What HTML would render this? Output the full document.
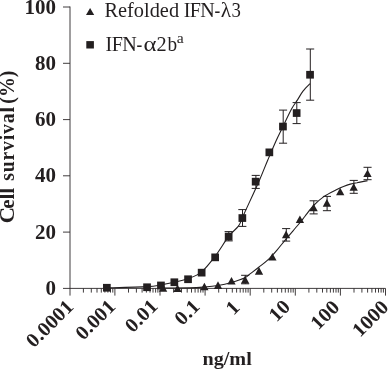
<!DOCTYPE html>
<html><head><meta charset="utf-8"><title>chart</title><style>html,body{margin:0;padding:0;background:#fff}</style></head><body>
<svg width="388" height="370" viewBox="0 0 388 370" style="display:block">
<rect width="388" height="370" fill="#fff"/>
<g stroke="#2b2728" stroke-width="0.9" fill="none">
<line x1="70.0" y1="6.5" x2="70.0" y2="295.6"/>
<line x1="63" y1="288.4" x2="385.5" y2="288.4"/>
<line x1="63" y1="232.1" x2="70.0" y2="232.1"/>
<line x1="63" y1="175.8" x2="70.0" y2="175.8"/>
<line x1="63" y1="119.6" x2="70.0" y2="119.6"/>
<line x1="63" y1="63.3" x2="70.0" y2="63.3"/>
<line x1="63" y1="7.0" x2="70.0" y2="7.0"/>
<line x1="83.4" y1="288.4" x2="83.4" y2="292.6"/>
<line x1="91.3" y1="288.4" x2="91.3" y2="292.6"/>
<line x1="97.0" y1="288.4" x2="97.0" y2="292.6"/>
<line x1="101.3" y1="288.4" x2="101.3" y2="292.6"/>
<line x1="104.9" y1="288.4" x2="104.9" y2="292.6"/>
<line x1="107.9" y1="288.4" x2="107.9" y2="292.6"/>
<line x1="110.5" y1="288.4" x2="110.5" y2="292.6"/>
<line x1="112.8" y1="288.4" x2="112.8" y2="292.6"/>
<line x1="114.9" y1="288.4" x2="114.9" y2="295.6"/>
<line x1="128.5" y1="288.4" x2="128.5" y2="292.6"/>
<line x1="136.4" y1="288.4" x2="136.4" y2="292.6"/>
<line x1="142.1" y1="288.4" x2="142.1" y2="292.6"/>
<line x1="146.4" y1="288.4" x2="146.4" y2="292.6"/>
<line x1="150.0" y1="288.4" x2="150.0" y2="292.6"/>
<line x1="153.0" y1="288.4" x2="153.0" y2="292.6"/>
<line x1="155.6" y1="288.4" x2="155.6" y2="292.6"/>
<line x1="157.9" y1="288.4" x2="157.9" y2="292.6"/>
<line x1="160.0" y1="288.4" x2="160.0" y2="295.6"/>
<line x1="173.6" y1="288.4" x2="173.6" y2="292.6"/>
<line x1="181.5" y1="288.4" x2="181.5" y2="292.6"/>
<line x1="187.2" y1="288.4" x2="187.2" y2="292.6"/>
<line x1="191.5" y1="288.4" x2="191.5" y2="292.6"/>
<line x1="195.1" y1="288.4" x2="195.1" y2="292.6"/>
<line x1="198.1" y1="288.4" x2="198.1" y2="292.6"/>
<line x1="200.7" y1="288.4" x2="200.7" y2="292.6"/>
<line x1="203.0" y1="288.4" x2="203.0" y2="292.6"/>
<line x1="205.1" y1="288.4" x2="205.1" y2="295.6"/>
<line x1="218.7" y1="288.4" x2="218.7" y2="292.6"/>
<line x1="226.6" y1="288.4" x2="226.6" y2="292.6"/>
<line x1="232.3" y1="288.4" x2="232.3" y2="292.6"/>
<line x1="236.6" y1="288.4" x2="236.6" y2="292.6"/>
<line x1="240.2" y1="288.4" x2="240.2" y2="292.6"/>
<line x1="243.2" y1="288.4" x2="243.2" y2="292.6"/>
<line x1="245.8" y1="288.4" x2="245.8" y2="292.6"/>
<line x1="248.1" y1="288.4" x2="248.1" y2="292.6"/>
<line x1="250.2" y1="288.4" x2="250.2" y2="295.6"/>
<line x1="263.8" y1="288.4" x2="263.8" y2="292.6"/>
<line x1="271.7" y1="288.4" x2="271.7" y2="292.6"/>
<line x1="277.4" y1="288.4" x2="277.4" y2="292.6"/>
<line x1="281.7" y1="288.4" x2="281.7" y2="292.6"/>
<line x1="285.3" y1="288.4" x2="285.3" y2="292.6"/>
<line x1="288.3" y1="288.4" x2="288.3" y2="292.6"/>
<line x1="290.9" y1="288.4" x2="290.9" y2="292.6"/>
<line x1="293.2" y1="288.4" x2="293.2" y2="292.6"/>
<line x1="295.3" y1="288.4" x2="295.3" y2="295.6"/>
<line x1="308.9" y1="288.4" x2="308.9" y2="292.6"/>
<line x1="316.8" y1="288.4" x2="316.8" y2="292.6"/>
<line x1="322.5" y1="288.4" x2="322.5" y2="292.6"/>
<line x1="326.8" y1="288.4" x2="326.8" y2="292.6"/>
<line x1="330.4" y1="288.4" x2="330.4" y2="292.6"/>
<line x1="333.4" y1="288.4" x2="333.4" y2="292.6"/>
<line x1="336.0" y1="288.4" x2="336.0" y2="292.6"/>
<line x1="338.3" y1="288.4" x2="338.3" y2="292.6"/>
<line x1="340.4" y1="288.4" x2="340.4" y2="295.6"/>
<line x1="354.0" y1="288.4" x2="354.0" y2="292.6"/>
<line x1="361.9" y1="288.4" x2="361.9" y2="292.6"/>
<line x1="367.6" y1="288.4" x2="367.6" y2="292.6"/>
<line x1="371.9" y1="288.4" x2="371.9" y2="292.6"/>
<line x1="375.5" y1="288.4" x2="375.5" y2="292.6"/>
<line x1="378.5" y1="288.4" x2="378.5" y2="292.6"/>
<line x1="381.1" y1="288.4" x2="381.1" y2="292.6"/>
<line x1="383.4" y1="288.4" x2="383.4" y2="292.6"/>
<line x1="385.5" y1="288.4" x2="385.5" y2="295.6"/>
</g>
<g stroke="#231f20" stroke-width="1.1" fill="none" stroke-linejoin="round">
<path d="M106.8 287.9 C113.5 287.7 138.1 287.1 147.1 286.6 C156.1 286.1 156.4 285.6 160.9 284.9 C165.4 284.2 169.8 283.4 174.3 282.3 C178.8 281.2 183.4 280.4 188.0 278.6 C192.6 276.9 197.2 275.5 201.7 271.8 C206.2 268.1 210.7 262.1 215.2 256.2 C219.7 250.3 224.8 241.4 228.6 236.4 C232.4 231.4 235.9 229.5 238.2 226.4 C240.5 223.3 241.4 220.1 242.4 218.1 C243.4 216.1 241.2 220.4 243.9 214.3 C246.6 208.2 254.8 190.8 258.8 181.7 C262.8 172.6 264.9 166.8 267.8 160.0 C270.7 153.2 273.5 146.6 276.0 141.0 C278.5 135.4 280.4 131.9 283.0 126.5 C285.6 121.1 289.4 113.0 291.8 108.6 C294.2 104.2 295.6 102.8 297.5 99.9 C299.4 97.0 300.9 93.8 303.0 91.1 C305.1 88.4 308.8 84.8 310.0 83.6"/>
<path d="M163.0 288.0 C167.5 288.0 183.1 288.1 190.0 287.9 C196.9 287.7 199.9 287.4 204.6 287.0 C209.3 286.6 213.5 286.2 218.0 285.5 C222.5 284.8 227.0 283.8 231.5 282.5 C236.0 281.2 241.9 279.2 245.0 277.8 C248.1 276.4 247.8 275.6 250.0 273.9 C252.2 272.2 255.2 270.0 258.1 267.7 C261.0 265.4 264.5 263.1 267.6 260.2 C270.8 257.3 274.0 253.6 277.0 250.1 C280.0 246.6 282.3 243.5 285.8 239.3 C289.3 235.1 294.8 228.8 298.0 225.0 C301.2 221.2 302.2 219.8 304.8 216.5 C307.4 213.2 310.4 208.8 313.6 205.5 C316.8 202.2 319.9 199.3 323.8 196.6 C327.7 193.9 333.5 191.2 336.8 189.5 C340.1 187.8 341.2 187.3 343.5 186.4 C345.8 185.5 348.1 184.7 350.3 184.1 C352.6 183.5 354.8 183.1 357.0 182.7 C359.2 182.2 362.0 181.7 363.8 181.4 C365.6 181.1 367.0 180.8 367.6 180.7"/>
</g>
<g stroke="#231f20" stroke-width="1" fill="none">
<path d="M228.8 231.6 V240.9 M224.6 231.6 H232.7 M224.6 240.9 H232.7"/>
<path d="M242.5 209.6 V226.4 M238.3 209.6 H246.4 M238.3 226.4 H246.4"/>
<path d="M255.9 175.4 V188.4 M251.7 175.4 H259.8 M251.7 188.4 H259.8"/>
<path d="M283.2 110.1 V143.2 M279.0 110.1 H287.1 M279.0 143.2 H287.1"/>
<path d="M296.8 102.6 V123.6 M292.6 102.6 H300.7 M292.6 123.6 H300.7"/>
<path d="M310.3 49 V100.2 M306.1 49 H314.2 M306.1 100.2 H314.2"/>
<path d="M245.3 275.3 V283.8 M241.1 275.3 H249.2 M241.1 283.8 H249.2"/>
<path d="M286.3 228.6 V241.1 M282.1 228.6 H290.2 M282.1 241.1 H290.2"/>
<path d="M313.8 200.8 V213.9 M309.6 200.8 H317.7 M309.6 213.9 H317.7"/>
<path d="M327.1 196.4 V210.7 M322.9 196.4 H331.0 M322.9 210.7 H331.0"/>
<path d="M353.9 180.4 V193.3 M349.7 180.4 H357.8 M349.7 193.3 H357.8"/>
<path d="M367.7 167.3 V179.7 M363.5 167.3 H371.6 M363.5 179.7 H371.6"/>
</g>
<g fill="#231f20">
<rect x="103.0" y="283.9" width="7.7" height="7.7"/>
<rect x="143.2" y="283.4" width="7.7" height="7.7"/>
<rect x="157.1" y="281.6" width="7.7" height="7.7"/>
<rect x="170.5" y="278.4" width="7.7" height="7.7"/>
<rect x="184.2" y="275.4" width="7.7" height="7.7"/>
<rect x="197.8" y="268.8" width="7.7" height="7.7"/>
<rect x="211.3" y="253.5" width="7.7" height="7.7"/>
<rect x="224.8" y="232.7" width="7.7" height="7.7"/>
<rect x="238.5" y="214.2" width="7.7" height="7.7"/>
<rect x="251.8" y="177.8" width="7.7" height="7.7"/>
<rect x="265.5" y="148.5" width="7.7" height="7.7"/>
<rect x="279.1" y="122.7" width="7.7" height="7.7"/>
<rect x="292.8" y="109.2" width="7.7" height="7.7"/>
<rect x="306.2" y="70.9" width="7.7" height="7.7"/>
<path d="M163.1 284.1 L167.25 291.7 H158.95 Z"/>
<path d="M177.5 284.5 L181.65 292.1 H173.35 Z"/>
<path d="M204.4 282.7 L208.55 290.3 H200.25 Z"/>
<path d="M218.0 281.3 L222.15 288.9 H213.85 Z"/>
<path d="M231.5 276.9 L235.65 284.5 H227.35 Z"/>
<path d="M245.1 275.8 L249.25 283.4 H240.95 Z"/>
<path d="M259.0 267.1 L263.15 274.7 H254.85 Z"/>
<path d="M272.4 252.9 L276.55 260.5 H268.25 Z"/>
<path d="M286.1 230.6 L290.25 238.2 H281.95 Z"/>
<path d="M299.9 215.5 L304.05 223.1 H295.75 Z"/>
<path d="M313.6 203.7 L317.75 211.3 H309.45 Z"/>
<path d="M326.9 199.1 L331.05 206.7 H322.75 Z"/>
<path d="M340.2 187.7 L344.35 195.3 H336.05 Z"/>
<path d="M353.7 183.2 L357.85 190.8 H349.55 Z"/>
<path d="M367.5 169.4 L371.65 177.0 H363.35 Z"/>
<path d="M90.1 8 L94.2 15 H86 Z"/>
<rect x="86.3" y="41.1" width="7.6" height="7.4"/>
</g>
<g fill="#231f20" font-family="'Liberation Serif', 'DejaVu Serif', serif" font-size="20">
<text xml:space="preserve"><tspan x="104.50" y="17.4" font-size="20.3" textLength="79.66" lengthAdjust="spacingAndGlyphs">Refolded </tspan><tspan x="183.70" y="17.4" font-size="20.3" letter-spacing="-0.6" textLength="30.58" lengthAdjust="spacingAndGlyphs">IFN</tspan><tspan x="214.60" y="17.4" font-size="20.3" textLength="5.75" lengthAdjust="spacingAndGlyphs">-</tspan><tspan x="220.70" y="17.4" font-size="21.3" textLength="10.33" lengthAdjust="spacingAndGlyphs">λ</tspan><tspan x="231.40" y="17.4" font-size="21.6" textLength="9.39" lengthAdjust="spacingAndGlyphs">3</tspan></text>
<text xml:space="preserve"><tspan x="105.60" y="50.5" font-size="20.3" letter-spacing="-0.6" textLength="30.58" lengthAdjust="spacingAndGlyphs">IFN</tspan><tspan x="136.60" y="50.5" font-size="20.3" textLength="5.75" lengthAdjust="spacingAndGlyphs">-</tspan><tspan x="143.50" y="50.5" font-size="20.3" textLength="12.98" lengthAdjust="spacingAndGlyphs">α</tspan><tspan x="156.40" y="50.5" font-size="20.3" textLength="10.14" lengthAdjust="spacingAndGlyphs">2</tspan><tspan x="167.40" y="50.5" font-size="20.3" textLength="9.63" lengthAdjust="spacingAndGlyphs">b</tspan><tspan x="176.70" y="42.5" font-size="14.3" textLength="7.00" lengthAdjust="spacingAndGlyphs">a</tspan></text>
<g font-weight="bold">
<text transform="translate(56.10 294.90) scale(1.05 1)" text-anchor="end">0</text>
<text transform="translate(56.10 238.62) scale(1.05 1)" text-anchor="end">20</text>
<text transform="translate(56.10 182.34) scale(1.05 1)" text-anchor="end">40</text>
<text transform="translate(56.10 126.06) scale(1.05 1)" text-anchor="end">60</text>
<text transform="translate(56.10 69.78) scale(1.05 1)" text-anchor="end">80</text>
<text transform="translate(56.10 13.50) scale(1.05 1)" text-anchor="end">100</text>
<text transform="translate(49.65 323.55) rotate(-45) scale(1.052 1)" text-anchor="middle" y="6.5">0.0001</text>
<text transform="translate(95.30 319.65) rotate(-45) scale(1.052 1)" text-anchor="middle" y="6.5">0.001</text>
<text transform="translate(141.25 315.85) rotate(-45) scale(1.052 1)" text-anchor="middle" y="6.5">0.01</text>
<text transform="translate(187.05 312.35) rotate(-45) scale(1.052 1)" text-anchor="middle" y="6.5">0.1</text>
<text transform="translate(232.60 307.65) rotate(-45) scale(1.052 1)" text-anchor="middle" y="6.5">1</text>
<text transform="translate(279.40 310.70) rotate(-45) scale(1.052 1)" text-anchor="middle" y="6.5">10</text>
<text transform="translate(324.85 314.90) rotate(-45) scale(1.052 1)" text-anchor="middle" y="6.5">100</text>
<text transform="translate(370.25 318.65) rotate(-45) scale(1.052 1)" text-anchor="middle" y="6.5">1000</text>
<text transform="translate(202.40 365.10) scale(1.08 1)" font-size="18.7">ng/ml</text>
<text xml:space="preserve" transform="translate(14 0) rotate(-90)"><tspan x="-223.50" y="0" font-size="20" textLength="16.62" lengthAdjust="spacingAndGlyphs">C</tspan><tspan x="-208.80" y="0" font-size="20" textLength="26.25" lengthAdjust="spacingAndGlyphs">ell </tspan><tspan x="-180.80" y="0" font-size="20" letter-spacing="0.85" textLength="80.32" lengthAdjust="spacingAndGlyphs">survival </tspan><tspan x="-103.70" y="0" font-size="20" textLength="33.16" lengthAdjust="spacingAndGlyphs">(%)</tspan></text>
</g></g>
</svg>
</body></html>
